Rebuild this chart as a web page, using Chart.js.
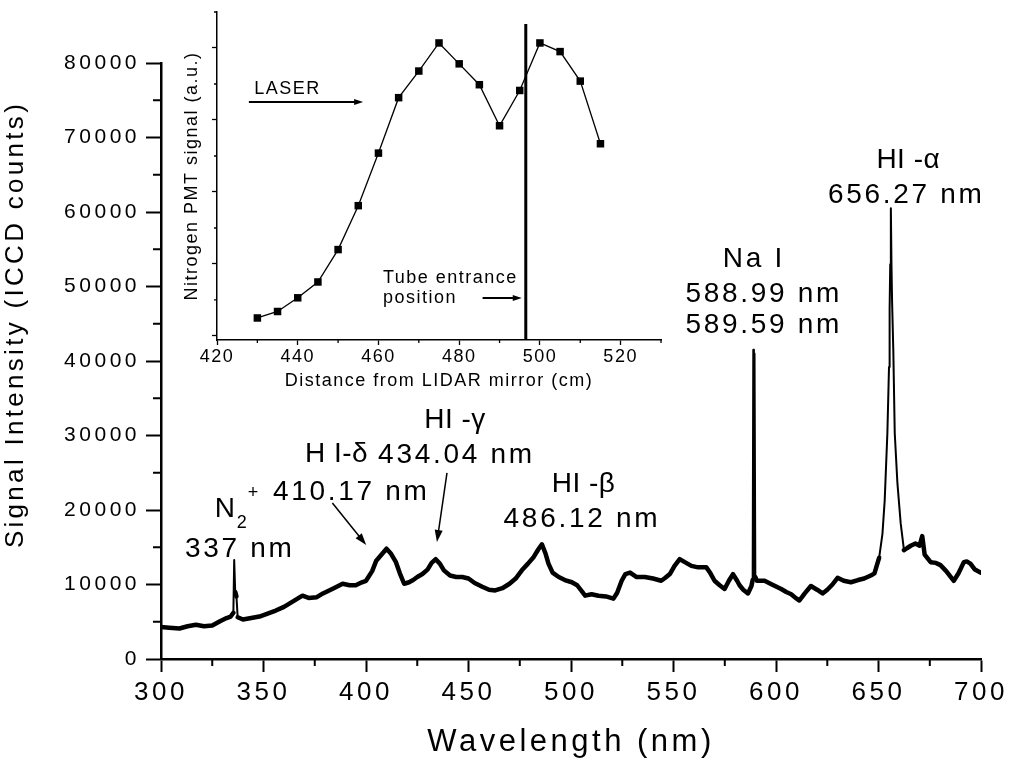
<!DOCTYPE html>
<html>
<head>
<meta charset="utf-8">
<title>Plasma emission spectrum</title>
<script src="https://cdn.jsdelivr.net/npm/chart.js@4.4.1/dist/chart.umd.min.js"></script>
<style>
  body { margin: 0; background: #fff; }
  #wrap { position: relative; width: 1013px; height: 764px; }
  #wrap canvas { position: absolute; left: 0; top: 0; }
</style>
</head>
<body>
<div id="wrap">
  <canvas id="spectrum" width="1013" height="764"></canvas>
  <canvas id="inset" width="1013" height="764"></canvas>
</div>
<script>
// Spectrum: wavelength (nm) and ICCD counts
const wavelength = [
  300, 304, 309, 313, 317, 321, 325, 329, 332, 334,
  335.3, 335.7, 336.2, 336.8, 337.4, 340, 344, 348, 352, 356,
  360, 363, 366, 369, 372, 376, 379, 382, 385, 388.6,
  392, 395, 398, 400, 403, 405, 407.5, 410, 412, 414.6,
  416.5, 418.6, 421, 423, 425, 427.5, 430, 432, 434, 436,
  438, 441, 444, 447, 450, 453, 456.7, 460, 463, 466.5,
  470, 473, 476, 479, 481.8, 484, 485.8, 487.5, 489, 491,
  494, 497, 500.4, 503, 506.9, 510, 513.4, 517, 520.7, 522.5,
  524.7, 526.5, 528.8, 532, 536, 540, 544, 546, 548.2, 550.5,
  553, 555.5, 558.7, 562, 566, 568, 570, 572.5, 574.9, 577,
  579, 581, 582.2, 584, 586.3, 588, 588.6, 588.9, 589.2, 589.5,
  589.9, 590.6, 594.4, 598, 602.5, 605, 607.4, 609.5, 611.4, 614,
  617, 620, 622.7, 625, 627.5, 630, 633, 636.5, 640, 643,
  646.2, 648, 650.3, 651.9, 653, 654.3, 655.1, 655.4, 655.7, 656.0,
  656.3, 656.6, 657.2, 657.9, 659.2, 660.8, 662.4, 664, 665.7, 668,
  670, 671.3, 672.5, 675.4, 678, 680.2, 683, 686.7, 689, 691.6,
  693, 694.8, 697, 699.7
];
const counts = [
  4300, 4200, 4100, 4400, 4600, 4400, 4500, 5100, 5500, 5700,
  6200, 13300, 9000, 8400, 5600, 5300, 5500, 5700, 6100, 6500,
  7000, 7500, 8000, 8500, 8200, 8300, 8800, 9200, 9600, 10100,
  9900, 9900, 10300, 10500, 11800, 13200, 14000, 14800, 14200, 13000,
  11500, 10100, 10300, 10600, 11000, 11400, 12000, 12900, 13400, 12800,
  11900, 11200, 11000, 11000, 10800, 10200, 9700, 9300, 9200, 9500,
  10100, 10800, 11900, 12800, 13700, 14700, 15400, 14200, 12800, 11600,
  11000, 10600, 10300, 9900, 8500, 8700, 8500, 8400, 8100, 8900,
  10500, 11400, 11600, 11000, 11000, 10800, 10500, 10900, 11400, 12500,
  13400, 13000, 12500, 12300, 12300, 11500, 10500, 9900, 9400, 10500,
  11400, 10500, 9900, 9300, 8800, 9800, 10600, 41500, 11000, 41000,
  11000, 10500, 10500, 10000, 9400, 9000, 8700, 8200, 7850, 8800,
  9800, 9300, 8800, 9300, 10000, 10900, 10500, 10300, 10600, 10800,
  11200, 11500, 13600, 16800, 21300, 30300, 39200, 47000, 53000, 60500,
  53000, 48000, 41400, 30300, 23600, 18200, 14600, 14900, 15200, 15500,
  15200, 16500, 14000, 13000, 12900, 12600, 11800, 10500, 11500, 13000,
  13100, 12800, 12000, 11600
];
const wavelengthTicks = [300, 350, 400, 450, 500, 550, 600, 650, 700];
const wavelengthMinorTicks = [325, 375, 425, 475, 525, 575, 625, 675];
const countTicks = [0, 10000, 20000, 30000, 40000, 50000, 60000, 70000, 80000];
const countMinorTicks = [5000, 15000, 25000, 35000, 45000, 55000, 65000, 75000];

// Inset: nitrogen PMT signal vs distance from the LIDAR mirror
const distance = [430, 435, 440, 445, 450, 455, 460, 465, 470, 475, 480, 485, 490, 495, 500, 505, 510, 515];
const pmtSignal = [1.25, 1.34, 1.53, 1.75, 2.2, 2.81, 3.54, 4.31, 4.68, 5.07, 4.78, 4.49, 3.92, 4.41, 5.07, 4.95, 4.54, 3.67];
const distanceTicks = [420, 440, 460, 480, 500, 520];
const distanceMinorTicks = [430, 450, 470, 490, 510, 530];
const pmtTicks = [1, 2, 3, 4, 5];
const pmtMinorTicks = [1.5, 2.5, 3.5, 4.5, 5.5];
const tubeEntrance = 496.5;

// Line labels on the spectrum (nm, counts = baseline of the text)
const spectrumNotes = [
  { text: '337 nm', x: 338.4, y: 13690 },
  { text: 'H I-δ', x: 385.6, y: 26440, tight: true },
  { text: '410.17 nm', x: 392.8, y: 21340 },
  { text: 'HI -γ', x: 443.4, y: 31000, tight: true },
  { text: '434.04 nm', x: 444.1, y: 26310 },
  { text: 'HI -β', x: 506.1, y: 22410, tight: true },
  { text: '486.12 nm', x: 505.3, y: 17720 },
  { text: 'Na I', x: 589.2, y: 52620 },
  { text: '588.99 nm', x: 594.0, y: 47920 },
  { text: '589.59 nm', x: 594.0, y: 43760 },
  { text: 'HI -α', x: 664.5, y: 65910, tight: true },
  { text: '656.27 nm', x: 663.5, y: 61210 }
];
const spectrumArrows = [
  { from: [383.6, 20940], to: [400.1, 15300] },
  { from: [439.5, 24970], to: [434.6, 15700] }
];
const insetNotes = [
  { text: 'LASER', x: 429.2, y: 4.36 },
  { text: 'Tube entrance', x: 461.1, y: 1.736 },
  { text: 'position', x: 461.1, y: 1.458 }
];
const insetArrows = [
  { from: [427.9, 4.25], to: [456.2, 4.25] },
  { from: [485.8, 1.528], to: [495.5, 1.528] }
];

Chart.defaults.font.family = "'Liberation Sans', Arial, Helvetica, sans-serif";
Chart.defaults.color = '#000';

function spacingPlugin(px) {
  return {
    id: 'spacing',
    beforeUpdate(chart) { chart.ctx.letterSpacing = px; },
    beforeDraw(chart) { chart.ctx.letterSpacing = px; }
  };
}

function minorTickPlugin(xVals, yVals, xLen, yLen, width) {
  return {
    id: 'minorTicks',
    afterDraw(chart) {
      const { ctx, scales: { x, y } } = chart;
      ctx.save();
      ctx.strokeStyle = '#000';
      ctx.lineWidth = width;
      ctx.beginPath();
      xVals.forEach(v => {
        const px = x.getPixelForValue(v);
        ctx.moveTo(px, x.top);
        ctx.lineTo(px, x.top + xLen);
      });
      yVals.forEach(v => {
        const py = y.getPixelForValue(v);
        ctx.moveTo(y.right, py);
        ctx.lineTo(y.right - yLen, py);
      });
      ctx.stroke();
      ctx.restore();
    }
  };
}

function drawArrow(ctx, x0, y0, x1, y1, head, half, lw) {
  const a = Math.atan2(y1 - y0, x1 - x0);
  const c = Math.cos(a), s = Math.sin(a);
  ctx.lineWidth = lw;
  ctx.beginPath();
  ctx.moveTo(x0, y0);
  ctx.lineTo(x1 - head * 0.7 * c, y1 - head * 0.7 * s);
  ctx.stroke();
  ctx.beginPath();
  ctx.moveTo(x1, y1);
  ctx.lineTo(x1 - head * c + half * s, y1 - head * s - half * c);
  ctx.lineTo(x1 - head * c - half * s, y1 - head * s + half * c);
  ctx.closePath();
  ctx.fill();
}

const spectrumNotesPlugin = {
  id: 'spectrumNotes',
  afterDraw(chart) {
    const { ctx, scales: { x, y } } = chart;
    ctx.save();
    ctx.fillStyle = '#000';
    ctx.strokeStyle = '#000';

    // count labels, right edge just left of the tick marks
    ctx.font = "21px 'Liberation Sans', Arial, sans-serif";
    ctx.letterSpacing = '3.5px';
    ctx.textAlign = 'left';
    ctx.textBaseline = 'middle';
    countTicks.forEach(v => {
      const t = String(v);
      ctx.fillText(t, y.right - 21 - ctx.measureText(t).width, y.getPixelForValue(v));
    });

    ctx.font = "28px 'Liberation Sans', Arial, sans-serif";
    ctx.textAlign = 'center';
    ctx.textBaseline = 'alphabetic';
    spectrumNotes.forEach(n => {
      ctx.letterSpacing = n.tight ? '0.5px' : '2.7px';
      ctx.fillText(n.text, x.getPixelForValue(n.x), y.getPixelForValue(n.y));
    });

    // N2+ with subscript and superscript
    const nx = x.getPixelForValue(326.2), ny = y.getPixelForValue(19060);
    ctx.textAlign = 'left';
    ctx.fillText('N', nx, ny);
    ctx.font = "18px 'Liberation Sans', Arial, sans-serif";
    ctx.fillText('2', nx + 22, ny + 11);
    ctx.fillText('+', nx + 33, ny - 19);

    spectrumArrows.forEach(a => drawArrow(ctx,
      x.getPixelForValue(a.from[0]), y.getPixelForValue(a.from[1]),
      x.getPixelForValue(a.to[0]), y.getPixelForValue(a.to[1]), 12, 4, 1.5));

    // y axis title
    ctx.translate(15.5, 324.5);
    ctx.rotate(-Math.PI / 2);
    ctx.letterSpacing = '3.3px';
    ctx.font = "26px 'Liberation Sans', Arial, sans-serif";
    ctx.textAlign = 'center';
    ctx.textBaseline = 'middle';
    ctx.fillText('Signal Intensity (ICCD counts)', 0, 0);
    ctx.restore();
  }
};

const insetNotesPlugin = {
  id: 'insetNotes',
  afterDatasetsDraw(chart) {
    const { ctx, scales: { x, y } } = chart;
    ctx.save();
    ctx.fillStyle = '#000';
    ctx.strokeStyle = '#000';
    // tube entrance marker
    ctx.lineWidth = 3;
    ctx.beginPath();
    ctx.moveTo(x.getPixelForValue(tubeEntrance), y.getPixelForValue(5.333));
    ctx.lineTo(x.getPixelForValue(tubeEntrance), y.getPixelForValue(y.min));
    ctx.stroke();

    ctx.font = "18px 'Liberation Sans', Arial, sans-serif";
    ctx.textAlign = 'left';
    insetNotes.forEach(n => ctx.fillText(n.text, x.getPixelForValue(n.x), y.getPixelForValue(n.y)));
    insetArrows.forEach(a => drawArrow(ctx,
      x.getPixelForValue(a.from[0]), y.getPixelForValue(a.from[1]),
      x.getPixelForValue(a.to[0]), y.getPixelForValue(a.to[1]), 9, 3, 2));
    ctx.restore();
  }
};

new Chart(document.getElementById('spectrum'), {
  type: 'line',
  data: {
    datasets: [{
      data: wavelength.map((w, i) => ({ x: w, y: counts[i] })),
      borderColor: '#000',
      borderWidth: 4.5,
      borderCapStyle: 'round',
      borderJoinStyle: 'round',
      pointRadius: 0,
      tension: 0,
      segment: {
        borderWidth: c => Math.abs(c.p1.parsed.y - c.p0.parsed.y) > 2500 ? 2 : 4.5
      }
    }]
  },
  options: {
    responsive: false,
    animation: false,
    layout: { padding: { left: 0, right: 29, top: 63, bottom: 0 } },
    plugins: { legend: { display: false }, tooltip: { enabled: false } },
    scales: {
      x: {
        type: 'linear', min: 300, max: 700,
        afterBuildTicks: s => { s.ticks = wavelengthTicks.map(v => ({ value: v })); },
        afterFit: s => { s.height = 105; },
        ticks: { font: { size: 26 }, padding: 5, maxRotation: 0, autoSkip: false, callback: v => String(v) },
        grid: { drawOnChartArea: false, tickLength: 13, tickWidth: 2, tickColor: '#000' },
        border: { color: '#000', width: 2.5 },
        title: { display: true, text: 'Wavelength (nm)', font: { size: 31 }, padding: { top: 0, bottom: 3 } }
      },
      y: {
        min: 0, max: 80000,
        afterBuildTicks: s => { s.ticks = countTicks.map(v => ({ value: v })); },
        afterFit: s => { s.width = 161; },
        ticks: { display: false },
        grid: { drawOnChartArea: false, tickLength: 15, tickWidth: 2, tickColor: '#000' },
        border: { color: '#000', width: 2.5 }
      }
    }
  },
  plugins: [spacingPlugin('3.5px'), minorTickPlugin(wavelengthMinorTicks, countMinorTicks, 7, 8, 2), spectrumNotesPlugin]
});

new Chart(document.getElementById('inset'), {
  type: 'line',
  data: {
    datasets: [{
      data: distance.map((d, i) => ({ x: d, y: pmtSignal[i] })),
      borderColor: '#000',
      borderWidth: 1.3,
      pointStyle: 'rect',
      pointRadius: 5.3,
      pointBorderWidth: 0,
      pointBackgroundColor: '#000',
      tension: 0
    }]
  },
  options: {
    responsive: false,
    animation: false,
    layout: { padding: { left: 181, right: 352, top: 12, bottom: 372.2 } },
    plugins: { legend: { display: false }, tooltip: { enabled: false } },
    scales: {
      x: {
        type: 'linear', min: 420, max: 530,
        afterBuildTicks: s => { s.ticks = distanceTicks.map(v => ({ value: v })); },
        afterFit: s => { s.height = 51.8; },
        ticks: { font: { size: 18 }, padding: 1, maxRotation: 0, autoSkip: false },
        grid: { drawOnChartArea: false, tickLength: 5, tickWidth: 1.3, tickColor: '#000' },
        border: { color: '#000', width: 1.5 },
        title: { display: true, text: 'Distance from LIDAR mirror (cm)', font: { size: 18 }, padding: 0 }
      },
      y: {
        min: 0.944, max: 5.5,
        afterBuildTicks: s => { s.ticks = pmtTicks.map(v => ({ value: v })); },
        afterFit: s => { s.width = 36; },
        ticks: { display: false },
        grid: { drawOnChartArea: false, tickLength: 5, tickWidth: 1.3, tickColor: '#000' },
        border: { color: '#000', width: 1.5 },
        title: { display: true, text: 'Nitrogen PMT signal (a.u.)', font: { size: 18 }, padding: 0 }
      }
    }
  },
  plugins: [spacingPlugin('1.5px'), minorTickPlugin(distanceMinorTicks, pmtMinorTicks, 3, 3, 1.3), insetNotesPlugin]
});
</script>
</body>
</html>
